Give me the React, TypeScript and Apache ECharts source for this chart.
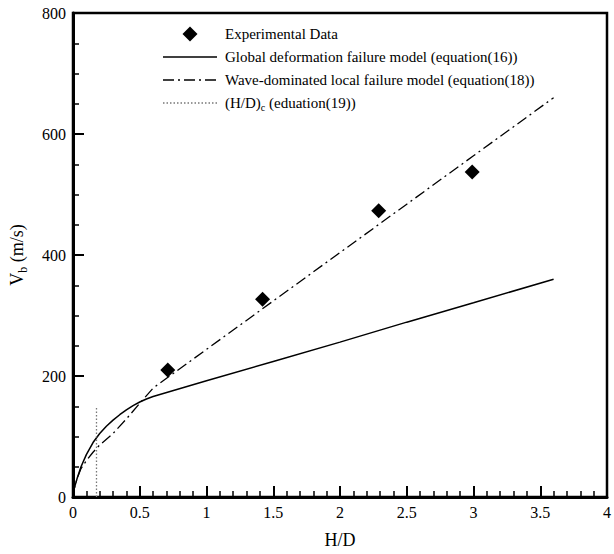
import React, { useEffect, useRef } from 'react';
import * as echarts from 'echarts';

const FONT = '"Liberation Serif", "Times New Roman", serif';

// Experimental data (H/D, Vb)
const expX = [0.71, 1.42, 2.29, 2.99];
const expY = [210, 327, 473, 537];

// Global deformation failure model (equation 16)
const globalX = [0, 0.01, 0.03, 0.06, 0.1, 0.15, 0.2, 0.25, 0.3, 0.35, 0.4, 0.45, 0.5, 0.55, 0.6, 1.0, 1.5, 2.0, 2.5, 3.0, 3.6];
const globalY = [0, 15, 30, 50, 70, 90, 105, 117, 127, 136, 144, 151, 157, 162, 166, 192, 224, 256, 289, 321, 360];

// Wave-dominated local failure model (equation 18)
const waveX = [0, 0.01, 0.03, 0.06, 0.1, 0.15, 0.2, 0.3, 0.4, 0.5, 0.6, 0.8, 1.0, 1.5, 2.0, 2.5, 3.0, 3.6];
const waveY = [0, 14, 30, 47, 60, 74, 86, 105, 129, 155, 180, 212, 244, 324, 404, 484, 564, 660];

// (H/D)c critical value (equation 19)
const critX = [0.176, 0.176];
const critY = [0, 150];

const seriesNames = [
  'Experimental Data',
  'Global deformation failure model (equation(16))',
  'Wave-dominated local failure model (equation(18))',
  '(H/D)c (eduation(19))',
];

const zip = (xs: number[], ys: number[]) => xs.map((x, i) => [x, ys[i]]);

const DASHDOT = [11, 4, 2, 4];
const DOTTED = [1.5, 2];

export default function App() {
  const ref = useRef<HTMLDivElement>(null);
  useEffect(() => {
    document.body.style.margin = '0';
    const chart = echarts.init(ref.current!, null, { renderer: 'svg' });
    const axisCommon = {
      type: 'value',
      axisLine: { show: true, onZero: false, lineStyle: { color: '#000', width: 3 } },
      axisTick: { show: true, inside: true, length: 11, lineStyle: { color: '#000', width: 2 } },
      minorTick: { show: true, length: 6, lineStyle: { color: '#000', width: 1.5 } },
      splitLine: { show: false },
      minorSplitLine: { show: false },
      axisLabel: { color: '#000', fontFamily: FONT, fontSize: 16, margin: 7 },
    };

    // legend drawn as graphic elements
    const lgX1 = 163;
    const lgX2 = 217;
    const lgTextX = 225;
    const rows = [34, 57, 80, 103];
    const textStyleBase = { fill: '#000', fontFamily: FONT, fontSize: 15 };
    const midX = (lgX1 + lgX2) / 2;
    const legendGraphics: any[] = [
      {
        type: 'polygon',
        shape: { points: [[midX, rows[0] - 7.5], [midX + 7.5, rows[0]], [midX, rows[0] + 7.5], [midX - 7.5, rows[0]]] },
        style: { fill: '#000' },
      },
      {
        type: 'line',
        shape: { x1: lgX1, y1: rows[1], x2: lgX2, y2: rows[1] },
        style: { stroke: '#000', lineWidth: 1.5 },
      },
      {
        type: 'line',
        shape: { x1: lgX1, y1: rows[2], x2: lgX2, y2: rows[2] },
        style: { stroke: '#000', lineWidth: 1.3, lineDash: DASHDOT },
      },
      {
        type: 'line',
        shape: { x1: lgX1, y1: rows[3], x2: lgX2, y2: rows[3] },
        style: { stroke: '#777', lineWidth: 1.3, lineDash: DOTTED },
      },
    ];
    [0, 1, 2].forEach((i) => {
      legendGraphics.push({
        type: 'text',
        x: lgTextX,
        y: rows[i],
        style: { ...textStyleBase, text: seriesNames[i], verticalAlign: 'middle', align: 'left' },
      });
    });
    legendGraphics.push({
      type: 'text',
      x: lgTextX,
      y: rows[3],
      style: {
        ...textStyleBase,
        text: '{a|(H/D)}{s|c}{a| (eduation(19))}',
        verticalAlign: 'middle',
        align: 'left',
        rich: {
          a: { fontFamily: FONT, fontSize: 15, fill: '#000', lineHeight: 18 },
          s: { fontFamily: FONT, fontSize: 10, fill: '#000', verticalAlign: 'bottom', lineHeight: 18 },
        },
      },
    });

    chart.setOption({
      animation: false,
      backgroundColor: '#fff',
      grid: { left: 66, right: 3, top: 13, bottom: 47, show: true, borderColor: '#000', borderWidth: 2.5 },
      graphic: legendGraphics,
      xAxis: {
        ...axisCommon,
        min: 0,
        max: 4,
        interval: 0.5,
        minorTick: { ...axisCommon.minorTick, splitNumber: 5 },
        name: 'H/D',
        nameLocation: 'middle',
        nameGap: 34,
        nameTextStyle: { color: '#000', fontFamily: FONT, fontSize: 18 },
      },
      yAxis: {
        ...axisCommon,
        min: 0,
        max: 800,
        interval: 200,
        minorTick: { ...axisCommon.minorTick, splitNumber: 4 },
        name: '{v|V}{s|b}{v| (m/s)}',
        nameLocation: 'middle',
        nameGap: 44,
        nameTextStyle: {
          color: '#000',
          fontFamily: FONT,
          fontSize: 18,
          rich: {
            v: { fontFamily: FONT, fontSize: 18, color: '#000', lineHeight: 24 },
            s: { fontFamily: FONT, fontSize: 12, color: '#000', verticalAlign: 'bottom', lineHeight: 24 },
          },
        },
      },
      series: [
        {
          name: seriesNames[0],
          type: 'scatter',
          data: zip(expX, expY),
          symbol: 'diamond',
          symbolSize: 15,
          itemStyle: { color: '#000', opacity: 1 },
          z: 5,
        },
        {
          name: seriesNames[1],
          type: 'line',
          data: zip(globalX, globalY),
          symbol: 'none',
          showSymbol: false,
          lineStyle: { color: '#000', width: 1.5, type: 'solid' },
        },
        {
          name: seriesNames[2],
          type: 'line',
          data: zip(waveX, waveY),
          symbol: 'none',
          showSymbol: false,
          lineStyle: { color: '#000', width: 1.3, type: DASHDOT },
        },
        {
          name: seriesNames[3],
          type: 'line',
          data: zip(critX, critY),
          symbol: 'none',
          showSymbol: false,
          lineStyle: { color: '#777', width: 1.3, type: DOTTED },
        },
      ],
    });
    return () => chart.dispose();
  }, []);
  return <div ref={ref} style={{ width: 614, height: 554 }} />;
}
